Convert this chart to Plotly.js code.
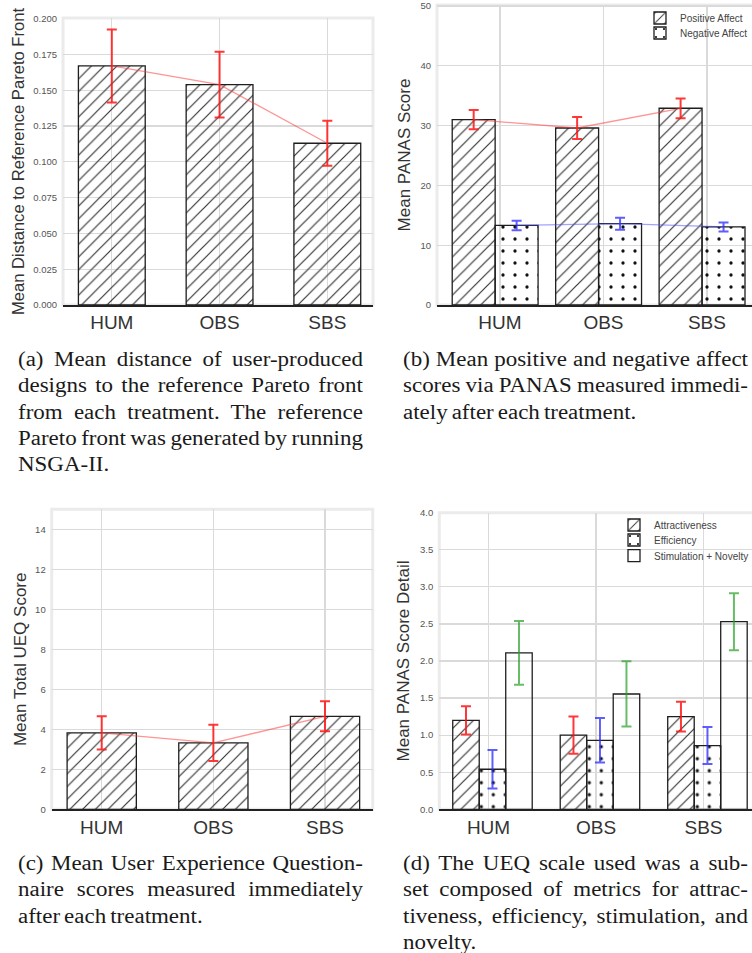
<!DOCTYPE html>
<html>
<head>
<meta charset="utf-8">
<script src="https://cdn.plot.ly/plotly-3.0.1.min.js"></script>
<style>
html, body { margin: 0; padding: 0; background: #fff; width: 752px; height: 953px; overflow: hidden; }
#chart { position: absolute; left: 0; top: 0; width: 775px; height: 953px; }
.cap { position: absolute; width: 308px; transform: scaleX(1.12); transform-origin: 0 0;
  font-family: "Liberation Serif", "Times New Roman", serif; font-size: 20.5px; line-height: 26.3px;
  word-spacing: -1.5px; color: #1a1a1a; }
.cap div { text-align: justify; text-align-last: justify; }
.cap div.last { text-align-last: left; }
</style>
</head>
<body>
<div id="chart"></div>
<div class="cap" style="left:18px; top:346px;">
  <div>(a) Mean distance of user-produced</div>
  <div>designs to the reference Pareto front</div>
  <div>from each treatment. The reference</div>
  <div>Pareto front was generated by running</div>
  <div class="last">NSGA-II.</div>
</div>
<div class="cap" style="left:403px; top:346px;">
  <div>(b) Mean positive and negative affect</div>
  <div>scores via PANAS measured immedi-</div>
  <div class="last">ately after each treatment.</div>
</div>
<div class="cap" style="left:18px; top:850px;">
  <div>(c) Mean User Experience Question-</div>
  <div>naire scores measured immediately</div>
  <div class="last">after each treatment.</div>
</div>
<div class="cap" style="left:403px; top:850px;">
  <div>(d) The UEQ scale used was a sub-</div>
  <div>set composed of metrics for attrac-</div>
  <div>tiveness, efficiency, stimulation, and</div>
  <div class="last">novelty.</div>
</div>
<script>
// ---------------- data ----------------
const categories = ['HUM', 'OBS', 'SBS'];

// (a) mean distance to reference Pareto front
const paretoDist = [0.167, 0.154, 0.113];
const paretoErr  = [0.0255, 0.023, 0.0158];

// (b) PANAS
const panasPositive    = [31.0, 29.6, 32.9];
const panasPositiveErr = [1.6, 1.85, 1.65];
const panasNegative    = [13.3, 13.6, 13.05];
const panasNegativeErr = [0.78, 1.0, 0.75];

// (c) total UEQ
const ueqTotal    = [3.82, 3.32, 4.65];
const ueqTotalErr = [0.83, 0.91, 0.75];

// (d) UEQ detail
const ueqAttract    = [1.2, 1.0, 1.25];
const ueqAttractErr = [0.19, 0.25, 0.2];
const ueqEff        = [0.54, 0.93, 0.86];
const ueqEffErr     = [0.26, 0.30, 0.25];
const ueqStim       = [2.11, 1.555, 2.53];
const ueqStimErr    = [0.43, 0.44, 0.385];

// ---------------- layout helpers ----------------
const W = 775, H = 953;
const px = (a, b) => [a / W, b / W];
const py = (top, bot) => [1 - bot / H, 1 - top / H];
const FONT = 'Liberation Sans, Arial, sans-serif';
const GRID = '#dadada';

const ERR_RED = 'rgba(255,20,20,0.85)';
const ERR_BLUE = 'rgba(40,40,255,0.75)';
const ERR_GREEN = 'rgba(40,160,40,0.7)';
const LINE_RED = 'rgba(255,60,60,0.55)';
const LINE_BLUE = 'rgba(70,70,255,0.5)';

const hatch = {color: 'rgba(0,0,0,0)', line: {color: '#1e1e1e', width: 1.3},
  pattern: {shape: '/', fgcolor: '#333', bgcolor: 'rgba(0,0,0,0)', size: 9, solidity: 0.13, fillmode: 'replace'}};
const dots = {color: 'rgba(0,0,0,0)', line: {color: '#1e1e1e', width: 1.3},
  pattern: {shape: '.', fgcolor: '#111', bgcolor: 'rgba(0,0,0,0)', size: 12, solidity: 0.06, fillmode: 'replace'}};
const plain = {color: 'rgba(0,0,0,0)', line: {color: '#1e1e1e', width: 1.3}};

function xAxis(domain, range, anchor) {
  return {domain, range, anchor, type: 'category', categoryarray: categories,
    showgrid: true, gridcolor: GRID, gridwidth: 1.2,
    showline: true, linecolor: '#222', linewidth: 1.6,
    zeroline: false, ticks: '', ticklabelstandoff: 0,
    tickfont: {family: FONT, size: 19, color: '#333'}, fixedrange: true};
}
function yAxis(domain, range, dtick, fmt, title, standoff, anchor, tsize) {
  return {domain, range, dtick, tick0: 0, tickformat: fmt, anchor,
    showgrid: true, gridcolor: GRID, gridwidth: 1.2,
    showline: false, zeroline: false, ticks: '', ticklabelstandoff: 5,
    tickfont: {family: FONT, size: 9.5, color: '#555'},
    title: {text: title, font: {family: FONT, size: tsize, color: '#333'}, standoff},
    fixedrange: true};
}
function overlayAxis(base, range) {
  return {overlaying: base, type: 'category', categoryarray: categories, range,
    visible: false, showgrid: false, zeroline: false, fixedrange: true};
}
function frame(xr, yr) {
  return {type: 'rect', xref: xr + ' domain', yref: yr + ' domain', x0: 0, x1: 1, y0: 0, y1: 1,
    line: {color: '#ebebeb', width: 3}, fillcolor: 'rgba(0,0,0,0)', layer: 'below'};
}
function errs(arr, color) { return {type: 'data', array: arr, color, thickness: 2, width: 5}; }

// panel (b) bar geometry (category units)
const bRange = [-0.609, 2.6];
const bWidth = 0.415, posOff = -0.462, negOff = -0.047;
const posC = posOff + bWidth / 2, negC = negOff + bWidth / 2;
// panel (d) bar geometry
const dRange = [-0.458, 2.6];
const dWidth = 0.2465, attOff = -0.333, effOff = -0.0865, stimOff = 0.160;

const traces = [
  // (a)
  {type: 'bar', x: categories, y: paretoDist, xaxis: 'x', yaxis: 'y', width: 0.62, marker: hatch,
   error_y: errs(paretoErr, ERR_RED), showlegend: false, hoverinfo: 'skip'},
  {type: 'scatter', mode: 'lines', x: categories, y: paretoDist, xaxis: 'x', yaxis: 'y',
   line: {color: LINE_RED, width: 1.3}, showlegend: false, hoverinfo: 'skip'},
  // (b)
  {type: 'bar', name: 'Positive Affect', legend: 'legend', x: categories, y: panasPositive, xaxis: 'x2', yaxis: 'y2',
   offset: posOff, width: bWidth, marker: hatch, error_y: errs(panasPositiveErr, ERR_RED), hoverinfo: 'skip'},
  {type: 'bar', name: 'Negative Affect', legend: 'legend2', x: categories, y: panasNegative, xaxis: 'x2', yaxis: 'y2',
   offset: negOff, width: bWidth, marker: dots, error_y: errs(panasNegativeErr, ERR_BLUE), hoverinfo: 'skip'},
  {type: 'scatter', mode: 'lines', x: categories, y: panasPositive, xaxis: 'x5', yaxis: 'y2',
   line: {color: LINE_RED, width: 1.3}, showlegend: false, hoverinfo: 'skip'},
  {type: 'scatter', mode: 'lines', x: categories, y: panasNegative, xaxis: 'x6', yaxis: 'y2',
   line: {color: LINE_BLUE, width: 1.3}, showlegend: false, hoverinfo: 'skip'},
  // (c)
  {type: 'bar', x: categories, y: ueqTotal, xaxis: 'x3', yaxis: 'y3', width: 0.62, marker: hatch,
   error_y: errs(ueqTotalErr, ERR_RED), showlegend: false, hoverinfo: 'skip'},
  {type: 'scatter', mode: 'lines', x: categories, y: ueqTotal, xaxis: 'x3', yaxis: 'y3',
   line: {color: LINE_RED, width: 1.3}, showlegend: false, hoverinfo: 'skip'},
  // (d)
  {type: 'bar', name: 'Attractiveness', legend: 'legend3', x: categories, y: ueqAttract, xaxis: 'x4', yaxis: 'y4',
   offset: attOff, width: dWidth, marker: hatch, error_y: errs(ueqAttractErr, ERR_RED), hoverinfo: 'skip'},
  {type: 'bar', name: 'Efficiency', legend: 'legend4', x: categories, y: ueqEff, xaxis: 'x4', yaxis: 'y4',
   offset: effOff, width: dWidth, marker: dots, error_y: errs(ueqEffErr, ERR_BLUE), hoverinfo: 'skip'},
  {type: 'bar', name: 'Stimulation + Novelty', legend: 'legend5', x: categories, y: ueqStim, xaxis: 'x4', yaxis: 'y4',
   offset: stimOff, width: dWidth, marker: plain, error_y: errs(ueqStimErr, ERR_GREEN), hoverinfo: 'skip'}
];

function leg(xpx, ypx) {
  return {x: xpx / W, xanchor: 'left', y: 1 - ypx / H, yanchor: 'middle', bgcolor: 'rgba(0,0,0,0)',
    borderwidth: 0, font: {family: FONT, size: 10, color: '#444'}};
}

const layout = {
  width: W, height: H, autosize: false,
  margin: {l: 0, r: 0, t: 0, b: 0},
  paper_bgcolor: '#fff', plot_bgcolor: '#fff',
  barmode: 'overlay', showlegend: true,
  font: {family: FONT},
  xaxis:  xAxis(px(63, 373), [-0.453, 2.424], 'y'),
  yaxis:  yAxis(py(18, 305), [0, 0.2005], 0.025, '.3f', 'Mean Distance to Reference Pareto Front', 4, 'x', 16.6),
  xaxis2: xAxis(px(437, 769), bRange, 'y2'),
  yaxis2: yAxis(py(5, 305), [0, 50.17], 10, 'd', 'Mean PANAS Score', 5, 'x2', 17),
  xaxis3: xAxis(px(51.7, 372.7), [-0.448, 2.427], 'y3'),
  yaxis3: yAxis(py(509.3, 809.3), [0, 15], 2, 'd', 'Mean Total UEQ Score', 4, 'x3', 17),
  xaxis4: xAxis(px(439.3, 768), dRange, 'y4'),
  yaxis4: yAxis(py(512.7, 809.3), [0, 4], 0.5, '.1f', 'Mean PANAS Score Detail', 6, 'x4', 17),
  xaxis5: Object.assign(overlayAxis('x2', [bRange[0] - posC, bRange[1] - posC]), {anchor: 'y2'}),
  xaxis6: Object.assign(overlayAxis('x2', [bRange[0] - negC, bRange[1] - negC]), {anchor: 'y2'}),
  legend:  leg(640, 18),
  legend2: leg(640, 33),
  legend3: leg(614, 525),
  legend4: leg(614, 540),
  legend5: leg(614, 555.7),
  shapes: [frame('x', 'y'), frame('x2', 'y2'), frame('x3', 'y3'), frame('x4', 'y4')]
};

Plotly.newPlot('chart', traces, layout, {staticPlot: true, displayModeBar: false});
</script>
</body>
</html>
